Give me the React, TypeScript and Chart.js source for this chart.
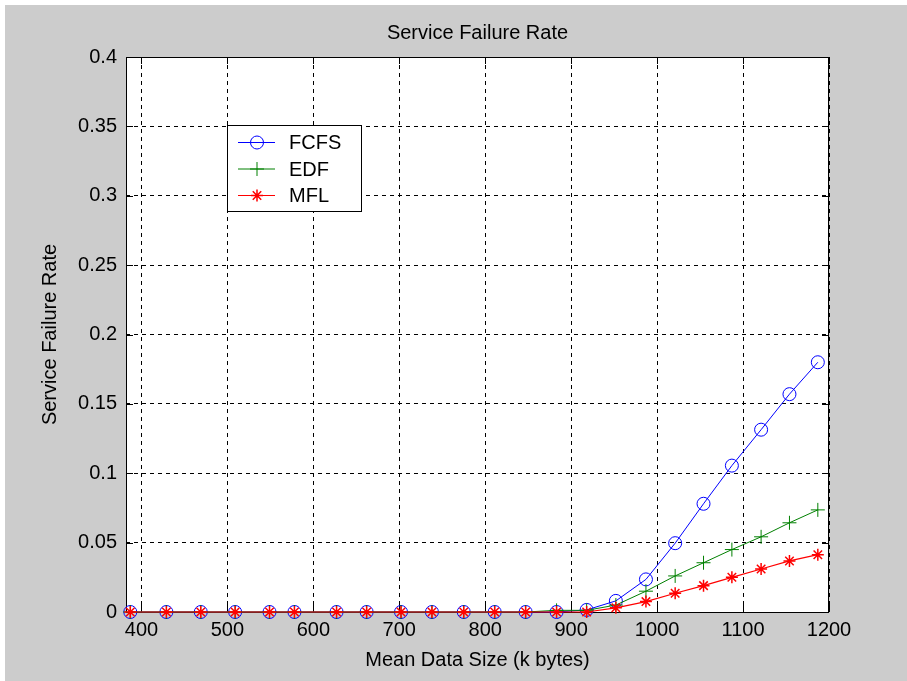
import React, { useEffect, useRef } from "react";
import { Chart, registerables } from "chart.js";

Chart.register(...registerables);

// Mean data size (k bytes) for each simulation run
const dataSizes = [387, 429, 469, 509, 549, 578, 627, 662, 702, 738, 775, 811, 847, 883, 918, 952, 987, 1021, 1054, 1087, 1121, 1154, 1187];

// Service failure rate per scheduling policy
const fcfsRate = [0, 0, 0, 0, 0, 0, 0, 0, 0, 0, 0, 0, 0, 0, 0.0015, 0.008, 0.0235, 0.0496, 0.078, 0.1055, 0.1314, 0.157, 0.18];
const edfRate = [0, 0, 0, 0, 0, 0, 0, 0, 0, 0, 0, 0, 0, 0.0012, 0.0012, 0.005, 0.015, 0.026, 0.0355, 0.045, 0.0542, 0.0643, 0.0736];
const mflRate = [0, 0, 0, 0, 0, 0, 0, 0, 0, 0, 0, 0, 0, 0, 0, 0.003, 0.0075, 0.0135, 0.019, 0.025, 0.031, 0.0368, 0.0413];

const seriesNames = ["FCFS", "EDF", "MFL"];
const seriesColors = ["#0000ff", "#008000", "#ff0000"];

const xTickValues = [400, 500, 600, 700, 800, 900, 1000, 1100, 1200];
const yTickValues = [0, 0.05, 0.1, 0.15, 0.2, 0.25, 0.3, 0.35, 0.4];
const yTickLabels = ["0", "0.05", "0.1", "0.15", "0.2", "0.25", "0.3", "0.35", "0.4"];

const chartTitle = "Service Failure Rate";
const xTitle = "Mean Data Size (k bytes)";
const yTitle = "Service Failure Rate";

const FONT = '"Liberation Sans", Arial, Helvetica, sans-serif';
const FONT_SIZE = 20;

function drawMarker(ctx: CanvasRenderingContext2D, style: string, x: number, y: number, r: number) {
  ctx.beginPath();
  if (style === "circle") {
    ctx.arc(x, y, r, 0, Math.PI * 2);
  } else if (style === "cross") {
    ctx.moveTo(x - r, y);
    ctx.lineTo(x + r, y);
    ctx.moveTo(x, y - r);
    ctx.lineTo(x, y + r);
  } else {
    const d = r * Math.SQRT1_2;
    ctx.moveTo(x - r, y);
    ctx.lineTo(x + r, y);
    ctx.moveTo(x, y - r);
    ctx.lineTo(x, y + r);
    ctx.moveTo(x - d, y - d);
    ctx.lineTo(x + d, y + d);
    ctx.moveTo(x - d, y + d);
    ctx.lineTo(x + d, y - d);
  }
  ctx.stroke();
}

const figurePlugin = {
  id: "figure",
  beforeDraw(chart: any) {
    const { ctx, width, height, chartArea: a } = chart;
    ctx.save();
    ctx.fillStyle = "#ffffff";
    ctx.fillRect(0, 0, width, height);
    ctx.fillStyle = "#cccccc";
    ctx.fillRect(5, 5, width - 5, height - 5);
    ctx.fillStyle = "#ffffff";
    ctx.fillRect(a.left, a.top, a.right - a.left, a.bottom - a.top);
    ctx.restore();
  },
  beforeDatasetsDraw(chart: any) {
    const { ctx, chartArea: a, scales } = chart;
    ctx.save();
    ctx.strokeStyle = "#000000";
    ctx.lineWidth = 1;
    ctx.setLineDash([]);
    ctx.strokeRect(a.left + 0.5, a.top + 0.5, a.right - a.left - 1, a.bottom - a.top);
    const tl = 7;
    ctx.beginPath();
    for (const v of xTickValues) {
      const x = Math.round(scales.x.getPixelForValue(v)) + 0.5;
      ctx.moveTo(x, a.bottom);
      ctx.lineTo(x, a.bottom - tl);
      ctx.moveTo(x, a.top);
      ctx.lineTo(x, a.top + tl);
    }
    for (const v of yTickValues) {
      const y = Math.round(scales.y.getPixelForValue(v)) + 0.5;
      ctx.moveTo(a.left, y);
      ctx.lineTo(a.left + tl, y);
      ctx.moveTo(a.right, y);
      ctx.lineTo(a.right - tl, y);
    }
    ctx.stroke();
    ctx.restore();
  },
  afterDraw(chart: any) {
    const { ctx, chartArea: a } = chart;
    ctx.save();
    ctx.fillStyle = "#000000";
    ctx.font = `${FONT_SIZE}px ${FONT}`;
    ctx.textAlign = "center";
    ctx.textBaseline = "middle";
    ctx.fillText(chartTitle, (a.left + a.right) / 2, 33);

    // legend box
    const lx = a.left + 101;
    const ly = a.top + 68;
    const lw = 134;
    const lh = 86;
    ctx.fillStyle = "#ffffff";
    ctx.fillRect(lx, ly, lw, lh);
    ctx.strokeStyle = "#000000";
    ctx.lineWidth = 1;
    ctx.strokeRect(lx + 0.5, ly + 0.5, lw, lh);
    const styles = ["circle", "cross", "star"];
    const radii = [6.5, 7, 6];
    seriesNames.forEach((name, i) => {
      const y = ly + 17.5 + i * 26.5;
      ctx.strokeStyle = seriesColors[i];
      ctx.lineWidth = 1;
      ctx.beginPath();
      ctx.moveTo(lx + 11, y);
      ctx.lineTo(lx + 48, y);
      ctx.stroke();
      ctx.lineWidth = i === 2 ? 1.5 : 1;
      drawMarker(ctx, styles[i], lx + 30, y, radii[i]);
      ctx.fillStyle = "#000000";
      ctx.textAlign = "left";
      ctx.fillText(name, lx + 62, y + 1);
    });
    ctx.restore();
  },
};

export default function App() {
  const canvasRef = useRef<HTMLCanvasElement | null>(null);

  useEffect(() => {
    const canvas = canvasRef.current;
    if (!canvas) return;
    const toPoints = (ys: number[]) => dataSizes.map((x, i) => ({ x, y: ys[i] }));
    const chart = new Chart(canvas, {
      type: "line",
      data: {
        datasets: [
          {
            label: seriesNames[0],
            data: toPoints(fcfsRate),
            borderColor: seriesColors[0],
            borderWidth: 1,
            pointStyle: "circle",
            pointRadius: 6.5,
            pointBorderWidth: 1,
            pointBorderColor: seriesColors[0],
            pointBackgroundColor: "rgba(0,0,0,0)",
            clip: false,
            order: 2,
          },
          {
            label: seriesNames[1],
            data: toPoints(edfRate),
            borderColor: seriesColors[1],
            borderWidth: 1,
            pointStyle: "cross",
            pointRadius: 7,
            pointBorderWidth: 1,
            pointBorderColor: seriesColors[1],
            pointBackgroundColor: seriesColors[1],
            clip: false,
            order: 1,
          },
          {
            label: seriesNames[2],
            data: toPoints(mflRate),
            borderColor: seriesColors[2],
            borderWidth: 1.2,
            pointStyle: "star",
            pointRadius: 6,
            pointBorderWidth: 1.5,
            pointBorderColor: seriesColors[2],
            pointBackgroundColor: seriesColors[2],
            clip: false,
            order: 0,
          },
        ] as any,
      },
      plugins: [figurePlugin],
      options: {
        responsive: false,
        animation: false,
        events: [],
        color: "#000000",
        layout: { padding: { top: 57, right: 78, left: 0, bottom: 0 } },
        plugins: {
          legend: { display: false },
          tooltip: { enabled: false },
          title: { display: false },
        },
        scales: {
          x: {
            type: "linear",
            min: 382,
            max: 1200,
            afterBuildTicks: (scale: any) => {
              scale.ticks = xTickValues.map((v) => ({ value: v }));
            },
            afterFit: (scale: any) => {
              scale.height = 69;
            },
            grid: { color: "#000000", lineWidth: 1, drawTicks: false },
            border: { display: false, dash: [4, 4] },
            ticks: {
              color: "#000000",
              font: { family: FONT, size: FONT_SIZE },
              padding: 6,
              maxRotation: 0,
              autoSkip: false,
              callback: (v: any) => String(v),
            },
            title: {
              display: true,
              text: xTitle,
              color: "#000000",
              font: { family: FONT, size: FONT_SIZE },
              padding: { top: 0, bottom: 9 },
            },
          },
          y: {
            type: "linear",
            min: 0,
            max: 0.4,
            afterBuildTicks: (scale: any) => {
              scale.ticks = yTickValues.map((v) => ({ value: v }));
            },
            afterFit: (scale: any) => {
              scale.width = 126;
            },
            grid: { color: "#000000", lineWidth: 1, drawTicks: false },
            border: { display: false, dash: [4, 4] },
            ticks: {
              color: "#000000",
              font: { family: FONT, size: FONT_SIZE },
              padding: 9,
              autoSkip: false,
              callback: (_v: any, i: number) => yTickLabels[i],
            },
            title: {
              display: true,
              text: yTitle,
              color: "#000000",
              font: { family: FONT, size: FONT_SIZE },
              padding: { top: 38, bottom: 0 },
            },
          },
        },
      } as any,
    });
    return () => chart.destroy();
  }, []);

  return (
    <div style={{ position: "absolute", left: 0, top: 0, width: 907, height: 681 }}>
      <canvas ref={canvasRef} width={907} height={681} style={{ display: "block" }} />
    </div>
  );
}
